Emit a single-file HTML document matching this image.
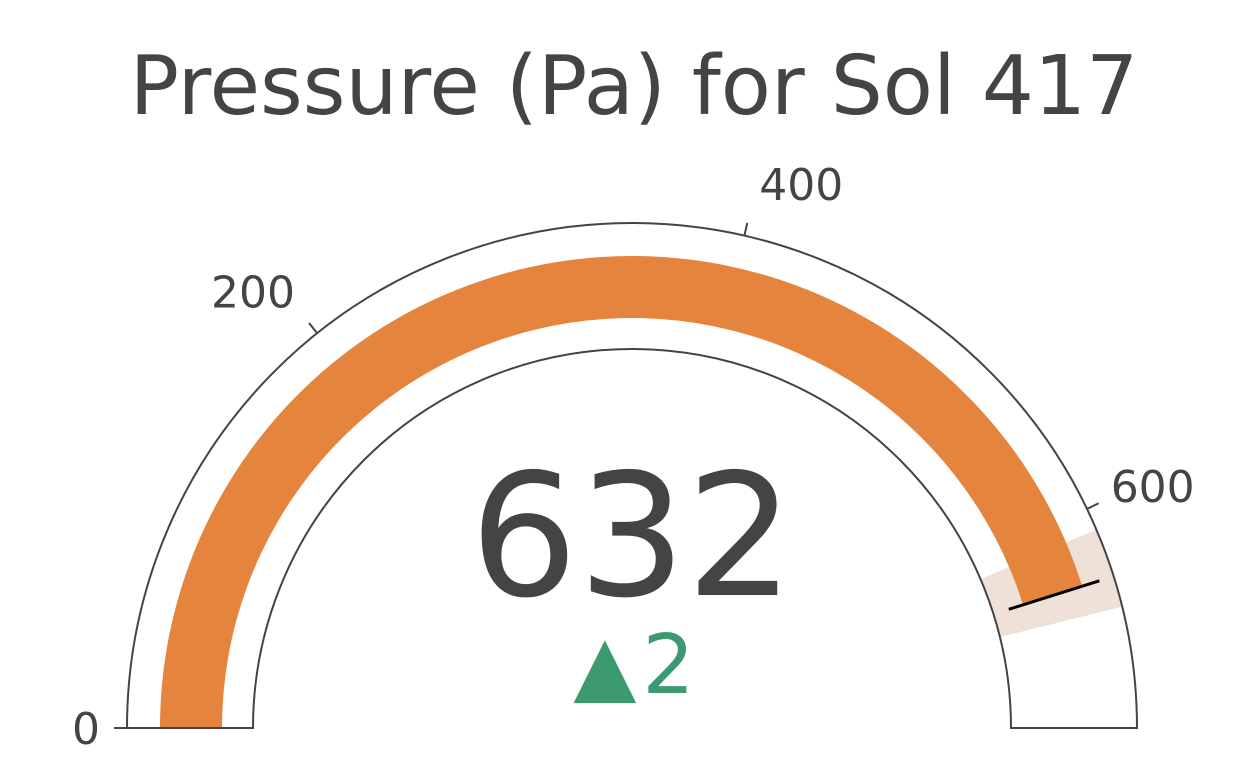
<!DOCTYPE html>
<html><head><meta charset="utf-8"><style>
body{margin:0;background:#fff;}
svg{display:block;font-family:"DejaVu Sans","Liberation Sans",sans-serif;}
</style></head><body>
<svg id="g" width="1260" height="776" viewBox="0 0 1260 776">
<text x="634" y="114" text-anchor="middle" font-size="82" fill="#444">Pressure (Pa) for Sol 417</text>
</svg>
<script>
const rangeMax = 700;
const gaugeValue = [632];
const deltaValue = [2];
const stepRange = [610, 646];
const thresholdValue = [632];
const tickValues = [0, 200, 400, 600];
const tickLabels = ["0", "200", "400", "600"];

const svg = document.getElementById('g');
const NS = 'http://www.w3.org/2000/svg';
const cx = 632, cy = 728, R0 = 379, R1 = 505, B0 = 410, B1 = 472;
function ang(v){ return Math.PI * (1 - v / rangeMax); }
function pt(v, r){ const a = ang(v); return [cx + r * Math.cos(a), cy - r * Math.sin(a)]; }
function sector(v0, v1, r0, r1){
  const a = pt(v0, r1), b = pt(v1, r1), c = pt(v1, r0), d = pt(v0, r0);
  return `M${a} A${r1},${r1} 0 0 1 ${b} L${c} A${r0},${r0} 0 0 0 ${d} Z`;
}
function add(tag, attrs){ const e = document.createElementNS(NS, tag); for (const k in attrs) e.setAttribute(k, attrs[k]); svg.appendChild(e); return e; }

const bg = add('path', {d: sector(0, rangeMax, R0, R1), fill: '#fff', stroke: 'none'});



const step = add('path', {d: sector(stepRange[0], stepRange[1], R0, R1), fill: '#efe1d8'});



const bar = add('path', {d: sector(0, gaugeValue[0], B0, B1), fill: '#e5843d'});



const outline = add('path', {d: sector(0, rangeMax, R0, R1), fill: 'none', stroke: '#444', 'stroke-width': 2});



const t0 = pt(thresholdValue[0], 395), t1 = pt(thresholdValue[0], 490);
const th = add('line', {x1: t0[0], y1: t0[1], x2: t1[0], y2: t1[1], stroke: '#000', 'stroke-width': 3});



tickValues.forEach((v, i) => {
  const p0 = pt(v, R1), p1 = pt(v, R1 + 13);
  const tk = add('line', {x1: p0[0], y1: p0[1], x2: p1[0], y2: p1[1], stroke: '#444', 'stroke-width': 2});
  
  
  const a = ang(v);
  const left = Math.cos(a) < 0;
  const tx = add('text', {x: p1[0] + (left ? -14 : 12), y: p1[1] + 16 - 40 * Math.sin(a), 'text-anchor': left ? 'end' : 'start', 'font-size': 44, fill: '#444'});
  tx.textContent = tickLabels[i];
  
  
});

const num = add('text', {x: 632, y: 595, 'text-anchor': 'middle', 'font-size': 170, fill: '#444'});
num.textContent = String(gaugeValue[0]);



const dl = add('text', {x: 637, y: 693, 'text-anchor': 'middle', 'font-size': 82, fill: '#3d9970', 'letter-spacing': '6'});
dl.textContent = (deltaValue[0] >= 0 ? '\u25B2' : '\u25BC') + Math.abs(deltaValue[0]);


</script>
</body></html>
